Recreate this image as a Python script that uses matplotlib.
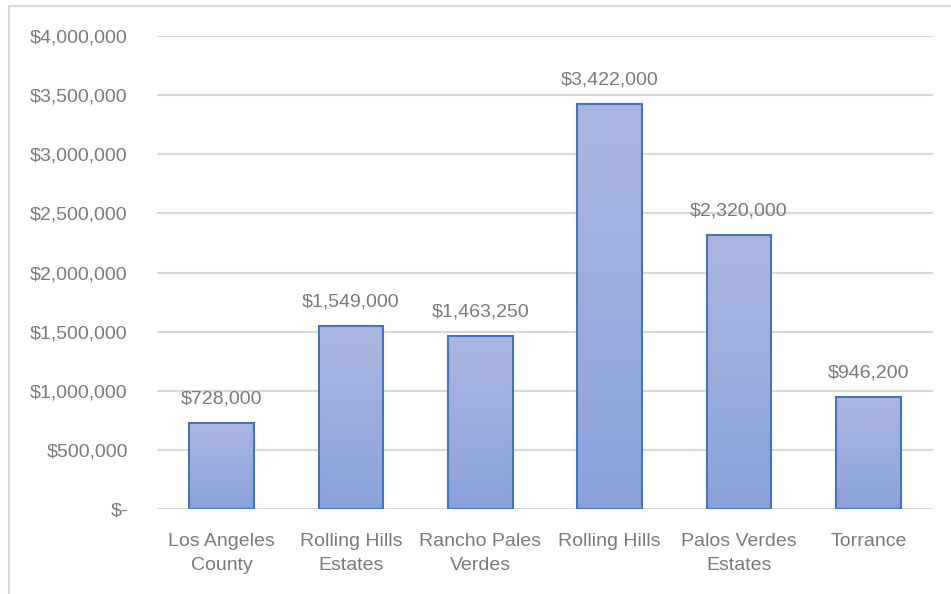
import numpy as np
import matplotlib.pyplot as plt
from matplotlib.patches import Rectangle
from matplotlib.colors import LinearSegmentedColormap

plt.rcParams["font.family"] = ["Liberation Sans", "DejaVu Sans"]

CATEGORIES = ["Los Angeles\nCounty", "Rolling Hills\nEstates", "Rancho Pales\nVerdes",
              "Rolling Hills", "Palos Verdes\nEstates", "Torrance"]
VALUES = [728000, 1549000, 1463250, 3422000, 2320000, 946200]
YTICKS = [0, 500000, 1000000, 1500000, 2000000, 2500000, 3000000, 3500000, 4000000]

TEXT = "#7A7A7A"
GRID = "#D9D9D9"
EDGE = "#4472C4"
cmap = LinearSegmentedColormap.from_list("bar", ["#8AA2DA", "#AAB8E0"])


def money(v):
    return "$-" if v == 0 else f"${v:,.0f}"


fig = plt.figure(figsize=(9.51, 5.94), dpi=100)
fig.patches.append(Rectangle((9 / 951, -0.1), 1.2, 1.1 - 6 / 594, transform=fig.transFigure,
                             fill=False, edgecolor="#D9D9D9", linewidth=1.5))
ax = fig.add_axes([157 / 951, 1 - 509 / 594, (933 - 157) / 951, (509 - 36) / 594])

x = np.arange(len(CATEGORIES))
width = 0.5
grad = np.linspace(0, 1, 256).reshape(-1, 1)
bars = ax.bar(x, VALUES, width=width, facecolor="none", edgecolor=EDGE, linewidth=1.5, zorder=3)
for bar, v in zip(bars, VALUES):
    x0 = bar.get_x()
    im = ax.imshow(grad, cmap=cmap, aspect="auto", origin="lower",
                   extent=(x0, x0 + width, 0, v), zorder=2)
    im.set_clip_path(bar)
    ax.text(bar.get_x() + width / 2, v + 130000, money(v), ha="center", va="bottom",
            fontsize=14, color=TEXT)

ax.set_xlim(-0.5, len(CATEGORIES) - 0.5)
ax.set_ylim(0, 4000000)
ax.set_yticks(YTICKS)
ax.set_yticklabels([money(v) for v in YTICKS])
ax.set_xticks(x)
ax.set_xticklabels(CATEGORIES, linespacing=1.6)
ax.tick_params(axis="y", length=0, pad=21, labelsize=14, labelcolor=TEXT)
ax.tick_params(axis="x", length=0, pad=17, labelsize=14, labelcolor=TEXT)
ax.grid(axis="y", color=GRID, linewidth=1.5, zorder=0)
ax.set_axisbelow(True)
for s in ax.spines.values():
    s.set_visible(False)

fig.savefig("out.png", dpi=100)
